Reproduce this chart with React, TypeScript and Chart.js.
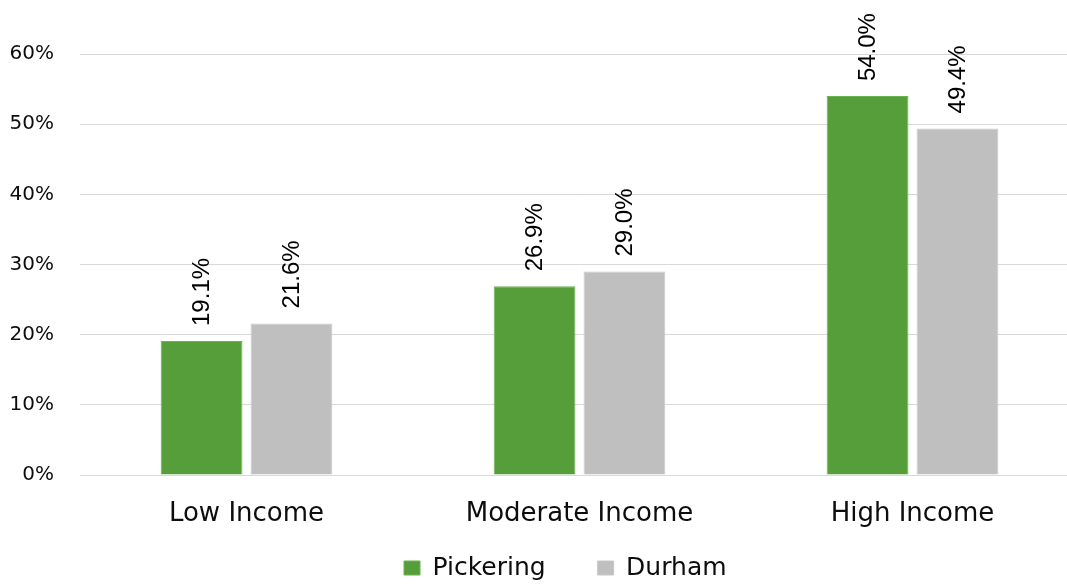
import React, { useEffect, useRef } from "react";
import { Chart, registerables } from "chart.js";

Chart.register(...registerables);

const categories = ["Low Income", "Moderate Income", "High Income"];
const pickering = [19.1, 26.9, 54.0];
const durham = [21.6, 29.0, 49.4];
const yTicks = [0, 10, 20, 30, 40, 50, 60];

const valueLabels = {
  id: "valueLabels",
  afterDatasetsDraw(chart: any) {
    const ctx = chart.ctx;
    ctx.save();
    ctx.font = "24px 'Liberation Sans', Arial, sans-serif";
    ctx.fillStyle = "#000000";
    ctx.textAlign = "left";
    ctx.textBaseline = "middle";
    chart.data.datasets.forEach((ds: any, di: number) => {
      const meta = chart.getDatasetMeta(di);
      meta.data.forEach((bar: any, i: number) => {
        const v = ds.data[i];
        ctx.save();
        ctx.translate(bar.x + 1, bar.y - 15);
        ctx.rotate(-Math.PI / 2);
        ctx.fillText(v.toFixed(1) + "%", 0, 0);
        ctx.restore();
      });
    });
    ctx.restore();
  },
};

// moves the legend box to where the reference has it
const legendPlace = {
  id: "legendPlace",
  afterLayout(chart: any) {
    const lg = chart.legend;
    if (!lg || !lg.lineWidths) return;
    const pad = 52;
    const targetTop = 503.5;
    const targetStart = 404;
    const dy = targetTop - lg.top;
    lg.top += dy;
    lg.bottom += dy;
    const start = (lg.left + pad + lg.right - lg.lineWidths[0]) / 2;
    const dx = targetStart - start;
    lg.left += dx;
    lg.right += dx;
  },
};

export default function App() {
  const ref = useRef<HTMLCanvasElement | null>(null);
  useEffect(() => {
    if (!ref.current) return;
    const chart = new Chart(ref.current, {
      type: "bar",
      data: {
        labels: categories,
        datasets: [
          {
            label: "Pickering",
            data: pickering,
            backgroundColor: "#559E3A",
            borderColor: "#6DB052",
            borderWidth: 1,
            categoryPercentage: 0.54,
            barPercentage: 0.91,
          },
          {
            label: "Durham",
            data: durham,
            backgroundColor: "#BFBFBF",
            borderColor: "#C8C8C8",
            borderWidth: 1,
            categoryPercentage: 0.54,
            barPercentage: 0.91,
          },
        ],
      },
      options: {
        animation: false,
        responsive: false,
        maintainAspectRatio: false,
        layout: { padding: { left: 0, right: 11, top: 54, bottom: 0 } },
        plugins: {
          tooltip: { enabled: false },
          legend: {
            position: "bottom",
            labels: {
              boxWidth: 16,
              boxHeight: 14,
              padding: 52,
              color: "#0d0d0d",
              font: { family: "'DejaVu Sans', sans-serif", size: 25 },
            },
          },
        },
        scales: {
          x: {
            grid: { display: false },
            border: { display: false },
            ticks: {
              color: "#0d0d0d",
              padding: 16,
              maxRotation: 0,
              font: { family: "'DejaVu Sans', sans-serif", size: 26 },
            },
            afterFit: (s: any) => {
              s.height = 60;
            },
          },
          y: {
            min: 0,
            max: 60,
            afterBuildTicks: (s: any) => {
              s.ticks = yTicks.map((v) => ({ value: v }));
            },
            grid: { color: "#D9D9D9", lineWidth: 1, drawTicks: false },
            border: { display: false },
            ticks: {
              color: "#0d0d0d",
              padding: 26,
              font: { family: "'DejaVu Sans', sans-serif", size: 20 },
              callback: (v: any) => v + "%",
            },
            afterFit: (s: any) => {
              s.width = 80;
            },
          },
        },
      },
      plugins: [valueLabels, legendPlace],
    });
    return () => chart.destroy();
  }, []);
  return (
    <div
      style={{
        position: "absolute",
        left: 0,
        top: 0,
        width: 1067,
        height: 584,
        overflow: "hidden",
        background: "#ffffff",
      }}
    >
      <canvas
        ref={ref}
        width={1090}
        height={622}
        style={{ display: "block", width: 1090, height: 622 }}
      />
    </div>
  );
}
